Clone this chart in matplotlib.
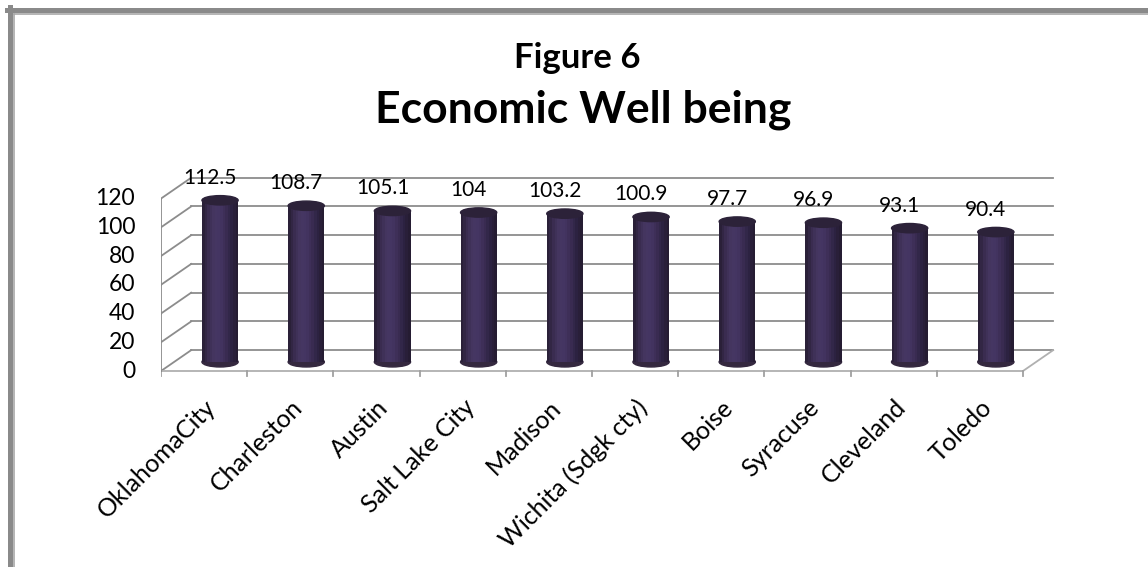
import numpy as np
import matplotlib.pyplot as plt
from matplotlib.patches import Ellipse
from matplotlib.lines import Line2D
from matplotlib.colors import LinearSegmentedColormap

# ── data ─────────────────────────────────────────────
cities = ["OklahomaCity", "Charleston", "Austin", "Salt Lake City", "Madison",
          "Wichita (Sdgk cty)", "Boise", "Syracuse", "Cleveland", "Toledo"]
scores = [112.5, 108.7, 105.1, 104, 103.2, 100.9, 97.7, 96.9, 93.1, 90.4]
y_ticks = [0, 20, 40, 60, 80, 100, 120]

plt.rcParams['font.family'] = ['Lato', 'DejaVu Sans']

W, H = 1148, 567
fig = plt.figure(figsize=(W / 100, H / 100), dpi=100)

# pixel geometry of the front plane
px_cat = 86.2      # px per category
px_val = 1.437     # px per value unit
x0_px, y0_px = 161, 371
xmax, ymin, ymax = 11.0, -10, 150
ax = fig.add_axes([x0_px / W, (H - (y0_px + (-ymin) * px_val)) / H,
                   xmax * px_cat / W, (ymax - ymin) * px_val / H])
ax.set_xlim(0, xmax)
ax.set_ylim(ymin, ymax)

# depth offsets (back wall and cylinder mid-plane)
dxb, dyb = 0.35, 14.5
dxm, dym = 0.185, 6.3
grid_c = "#8c8c8c"
n = len(cities)

# back wall gridlines + side wall diagonals
for v in y_ticks:
    ax.plot([dxb, n + dxb], [v + dyb, v + dyb], color=grid_c, lw=1.3, zorder=1)
    ax.plot([0, dxb], [v, v + dyb], color=grid_c, lw=1.3, zorder=1)
# floor
ax.plot([n, n + dxb], [0, dyb], color="#b0b0b0", lw=1.3, zorder=1)
ax.plot([0, n], [0, 0], color="#b0b0b0", lw=1.3, zorder=1)
for i in range(n + 1):
    ax.plot([i, i], [0, -3.5], color="#a0a0a0", lw=1.3, zorder=1)

# cylinders
body = LinearSegmentedColormap.from_list(
    "cyl", ["#2a2038", "#3b2d52", "#463762", "#443562", "#3b2d54", "#2d2342", "#251c32"])
cw = 0.42
nstrip = 14
for i, v in enumerate(scores):
    xc = i + 0.5 + dxm
    ax.add_patch(Ellipse((xc, dym), cw, 7.0, color="#34283f", zorder=3))
    for k in range(nstrip):
        left = xc - cw / 2 + k * cw / nstrip
        ax.bar(left, v, width=cw / nstrip * 1.05, bottom=dym, align="edge",
               color=body(k / (nstrip - 1)), lw=0, zorder=4)
    ax.add_patch(Ellipse((xc, v + dym), cw, 6.5, color="#2c2239", zorder=5))
    ax.text(i + 0.5 + 0.07, v + dym + 11.5, f"{v:g}", ha="center", va="baseline",
            fontsize=15, zorder=6)

# y axis on front plane
for v in y_ticks:
    ax.plot([-0.1, 0], [v, v], color=grid_c, lw=1.3, zorder=1)
    ax.text(-0.3, v, str(v), ha="right", va="center", fontsize=16.5)
ax.plot([0, 0], [0, 120], color=grid_c, lw=1.3, zorder=1)

# category labels
for i, c in enumerate(cities):
    ax.text(i + 0.5, -17, c, rotation=45, ha="right", va="top",
            rotation_mode="anchor", fontsize=18)

ax.axis("off")

fig.text(0.503, 1 - 68 / H, "Figure 6", ha="center", va="baseline",
         fontsize=25, fontweight="bold")
fig.text(0.508, 1 - 123 / H, "Economic Well being", ha="center", va="baseline",
         fontsize=32, fontweight="bold")

# chart frame
def hline(y, x1, x2, c, lw):
    fig.add_artist(Line2D([x1 / W, x2 / W], [1 - y / H, 1 - y / H], color=c, lw=lw))

def vline(x, y1, y2, c, lw):
    fig.add_artist(Line2D([x / W, x / W], [1 - y1 / H, 1 - y2 / H], color=c, lw=lw))

hline(9.5, 7, W, "#8a8a8a", 3.6)
vline(9.5, 7, H, "#8a8a8a", 3.6)
hline(14.3, 14, W, "#a8a8a8", 1.2)
vline(14.3, 14, H, "#a8a8a8", 1.2)

fig.savefig("out.png", dpi=100)
